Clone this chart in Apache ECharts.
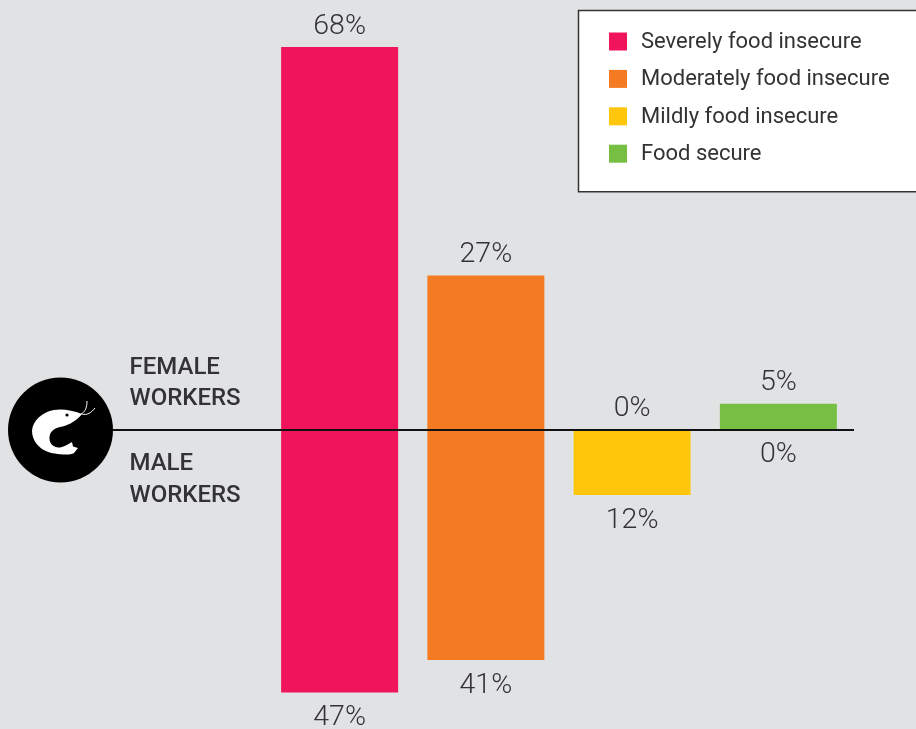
<!DOCTYPE html>
<html><head><meta charset="utf-8">
<style>html,body{margin:0;padding:0;background:#e1e2e4}#c{width:916px;height:729px}</style>
<script src="https://cdn.jsdelivr.net/npm/echarts@6/dist/echarts.min.js"></script>
</head><body><div id="c"></div>
<script>
const categories = ['Severely food insecure','Moderately food insecure','Mildly food insecure','Food secure'];
const female = [68,27.4,0,4.6];
const male = [46.7,40.9,11.6,0];
const colors = ['#f0145a','#f57b22','#ffc60b','#77bf43'];
const groupLabels = ['FEMALE','WORKERS','MALE','WORKERS'];
const ink = '#333336';

const series = [];
categories.forEach((name,i)=>{
  const only = (v)=>categories.map((_,j)=>j===i?v:null);
  const base = {type:'bar',name,barWidth:117,barGap:'-100%',itemStyle:{color:colors[i]},
    emphasis:{disabled:true},animation:false};
  const label = (position,distance)=>({show:true,position,distance,color:ink,fontFamily:'Roboto',fontWeight:300,fontSize:28.5,
    formatter:p=>Math.round(Math.abs(p.value))+'%'});
  series.push({...base,data:only(female[i]),label:label('top',6)});
  series.push({...base,data:only(-male[i]),label:label('bottom',11)});
});

echarts.graphic.registerShape('shrimpBody',echarts.graphic.extendShape({
  shape:{},
  buildPath(c){
    c.moveTo(82,414);
    c.bezierCurveTo(72,410,62,408.5,54,410);
    c.bezierCurveTo(42,412,32.5,421,32,431);
    c.bezierCurveTo(32.5,444,43,452,55,453.5);
    c.bezierCurveTo(61,454.5,70,455.5,74,453);
    c.lineTo(78,448);
    c.lineTo(73,446.5);
    c.lineTo(72,442);
    c.bezierCurveTo(67,445,62,448,58,447.5);
    c.bezierCurveTo(52,447,49,442,49.5,437);
    c.bezierCurveTo(50,431,55,428,60,427);
    c.bezierCurveTo(66,426,76,422,82,414);
    c.closePath();
  }
}));
echarts.graphic.registerShape('shrimpFeelers',echarts.graphic.extendShape({
  shape:{},
  buildPath(c){
    c.moveTo(81,414);c.bezierCurveTo(85,412,87,408,87,401);
    c.moveTo(82,414);c.bezierCurveTo(87,415.5,91,413,95,408);
  }
}));

const chart = echarts.init(document.getElementById('c'));
chart.setOption({
  backgroundColor:'#e1e2e4',
  animation:false,
  grid:{left:266.5,width:585,top:2,height:726},
  xAxis:{type:'category',data:categories,show:false},
  yAxis:{type:'value',min:-53,max:76,show:false},
  legend:{
    left:578.5,top:10.5,orient:'vertical',
    data:categories,
    icon:'rect',itemWidth:18,itemHeight:18,itemGap:15.4,
    backgroundColor:'#fff',borderColor:'#333',borderWidth:1.5,borderRadius:0,
    padding:[21,60,26,30.5],
    selectedMode:false,
    formatter:n=>'{t|'+n+'}',
    textStyle:{color:ink,fontFamily:'Roboto',fontSize:22,
      rich:{t:{color:ink,fontFamily:'Roboto',fontSize:22,padding:[2,0,0,9]}}}
  },
  series
});

const zeroY = Math.round(chart.convertToPixel({yAxisIndex:0},0));
const textEl = (text,y)=>({type:'text',z:20,style:{text,x:129.5,y,fill:ink,font:'500 24px Roboto',textVerticalAlign:'middle'}});
chart.setOption({graphic:[
  {type:'line',z:15,shape:{x1:105,y1:zeroY,x2:854,y2:zeroY},style:{stroke:'#111',lineWidth:2}},
  {type:'circle',z:16,shape:{cx:60.5,cy:zeroY,r:52.5},style:{fill:'#000'}},
  {type:'shrimpBody',z:17,style:{fill:'#fff'}},
  {type:'shrimpFeelers',z:17,style:{fill:null,stroke:'#fff',lineWidth:1}},
  {type:'circle',z:18,shape:{cx:67,cy:415,r:1.6},style:{fill:'#000'}},
  textEl(groupLabels[0],368),textEl(groupLabels[1],399),textEl(groupLabels[2],464),textEl(groupLabels[3],496)
]});
</script></body></html>
